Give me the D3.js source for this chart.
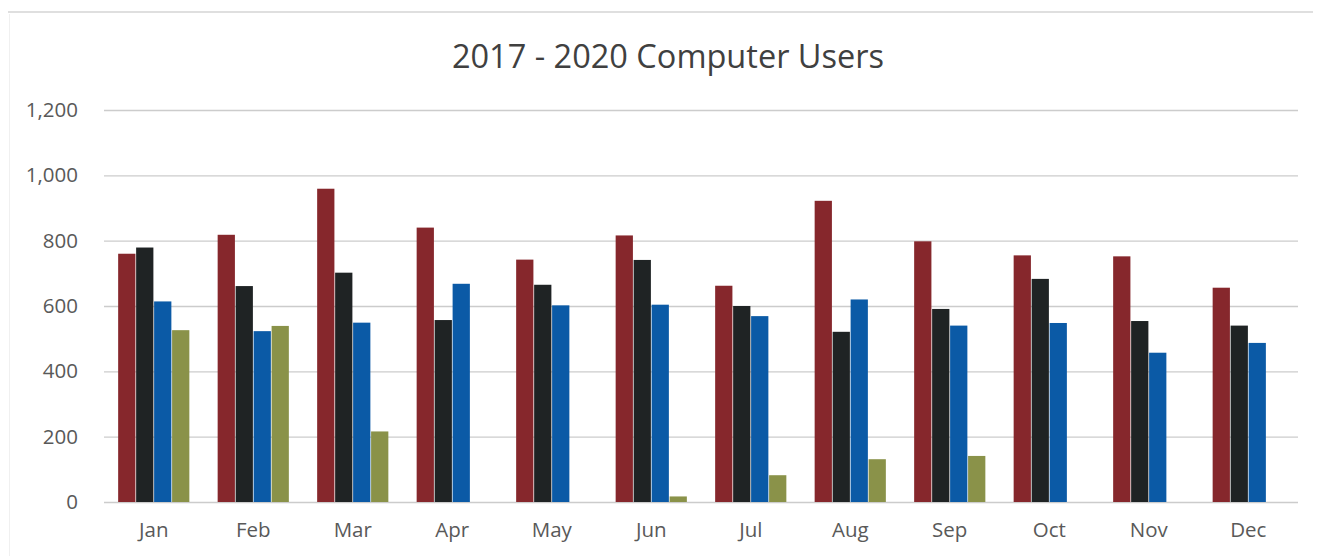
<!DOCTYPE html>
<html>
<head>
<meta charset="utf-8">
<script src="https://cdn.jsdelivr.net/npm/d3@7"></script>
<style>
  body { margin: 0; background: #fff; }
  svg { display: block; font-family: "Open Sans", "Noto Sans", sans-serif; }
</style>
</head>
<body>
<div id="chart"></div>
<script>
const months = ["Jan", "Feb", "Mar", "Apr", "May", "Jun", "Jul", "Aug", "Sep", "Oct", "Nov", "Dec"];
const series = ["2017", "2018", "2019", "2020"];
const users2017 = [760, 818, 959, 840, 742, 816, 662, 922, 798, 755, 752, 656];
const users2018 = [779, 661, 702, 557, 665, 741, 600, 521, 591, 683, 554, 540];
const users2019 = [614, 523, 549, 668, 602, 604, 569, 620, 540, 548, 457, 487];
const users2020 = [526, 539, 216, 0, 0, 17, 82, 131, 141, 0, 0, 0];
const yTicks = [0, 200, 400, 600, 800, 1000, 1200];
const colors = ["#86272c", "#1f2324", "#0b5aa6", "#8a9249"];

const width = 1323;
const height = 556;
const marginTop = 110;
const marginRight = 25;
const marginBottom = 54;
const marginLeft = 104;

const values = [users2017, users2018, users2019, users2020];
const data = months.map((m, i) => ({
    month: m,
    vals: series.map((s, j) => ({ key: s, value: values[j][i] }))
}));

const x0 = d3.scaleBand()
    .domain(months)
    .range([marginLeft, width - marginRight])
    .paddingInner(0.27)
    .paddingOuter(0.135);

const x1 = d3.scaleBand()
    .domain(series)
    .range([0, x0.bandwidth()])
    .padding(0.04);

const y = d3.scaleLinear()
    .domain([0, 1200])
    .range([height - marginBottom, marginTop]);

const svg = d3.select("#chart").append("svg")
    .attr("width", width)
    .attr("height", height)
    .attr("viewBox", [0, 0, width, height]);

// faint frame lines of the scanned chart
svg.append("line")
    .attr("x1", 8).attr("x2", 1313)
    .attr("y1", 12).attr("y2", 12)
    .attr("stroke", "#d4d4d4")
    .attr("stroke-width", 1.5);

svg.append("line")
    .attr("x1", 9.5).attr("x2", 9.5)
    .attr("y1", 14).attr("y2", 556)
    .attr("stroke", "#f0f0f0")
    .attr("stroke-width", 1);

svg.append("text")
    .attr("x", 668)
    .attr("y", 68)
    .attr("text-anchor", "middle")
    .attr("font-size", 32.5)
    .attr("fill", "#404040")
    .text("2017 - 2020 Computer Users");

// gridlines
svg.append("g")
    .selectAll("line")
    .data(yTicks)
    .join("line")
    .attr("x1", marginLeft)
    .attr("x2", width - marginRight)
    .attr("y1", d => y(d) + 0.5)
    .attr("y2", d => y(d) + 0.5)
    .attr("stroke", "#cccccc")
    .attr("stroke-width", 1.3);

svg.append("g")
    .attr("transform", `translate(${marginLeft - 23},0)`)
    .call(d3.axisLeft(y).tickValues(yTicks).tickFormat(d3.format(",")).tickSize(0))
    .call(g => g.select(".domain").remove())
    .call(g => g.selectAll("text")
        .attr("font-size", 20.5)
        .attr("font-family", "\"Open Sans\", sans-serif")
        .attr("fill", "#595959"));

svg.append("g")
    .attr("transform", `translate(0,${height - marginBottom + 17})`)
    .call(d3.axisBottom(x0).tickSize(0))
    .call(g => g.select(".domain").remove())
    .call(g => g.selectAll("text")
        .attr("font-size", 20.5)
        .attr("font-family", "\"Open Sans\", sans-serif")
        .attr("fill", "#595959"));

const groups = svg.append("g")
    .selectAll("g")
    .data(data)
    .join("g")
    .attr("transform", d => `translate(${x0(d.month)},0)`);

groups.selectAll("rect")
    .data(d => d.vals)
    .join("rect")
    .attr("x", d => x1(d.key))
    .attr("y", d => y(d.value))
    .attr("width", x1.bandwidth())
    .attr("height", d => y(0) - y(d.value))
    .attr("fill", (d, i) => colors[i]);
</script>
</body>
</html>
